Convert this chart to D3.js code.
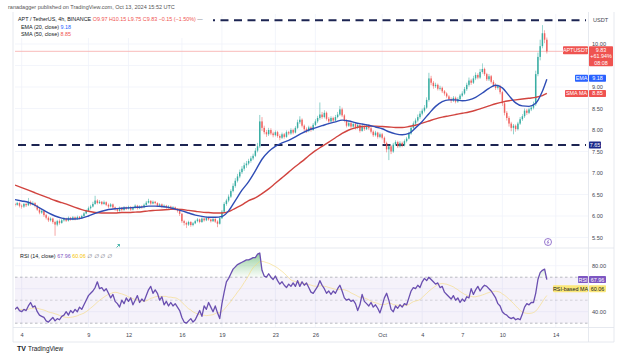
<!DOCTYPE html>
<html><head><meta charset="utf-8">
<script src="https://cdn.jsdelivr.net/npm/d3@7"></script>
<style>
html,body{margin:0;padding:0;background:#fff;}
svg{display:block;font-family:"Liberation Sans",Arial,sans-serif;}
</style></head><body>
<svg id="c" width="640" height="355"></svg>
<script>
// ---------- DATA (4h candles, APT/USDT, from Sep 3 12:00 UTC) ----------
const firstOpen = 6.28;
const close = [
6.26,6.30,6.24,
6.22,6.28,6.25,6.33,6.27,6.30,
6.24,6.15,6.08,6.12,6.02,5.96,
5.90,5.94,5.86,5.80,5.88,5.84,
5.90,5.94,5.89,5.96,5.92,5.97,
5.93,5.98,5.95,6.00,6.06,6.12,
6.18,6.22,6.28,6.36,6.30,6.33,
6.28,6.32,6.26,6.22,6.27,6.20,
6.16,6.12,6.19,6.14,6.20,6.17,
6.21,6.15,6.19,6.24,6.18,6.22,
6.20,6.26,6.31,6.35,6.29,6.33,
6.30,6.24,6.27,6.21,6.24,6.20,
6.22,6.18,6.20,6.16,6.12,6.05,
5.88,5.84,5.80,5.86,5.79,5.83,
5.88,5.92,5.86,5.94,5.90,5.96,
5.92,5.88,5.93,5.87,5.82,5.95,
6.10,6.28,6.36,6.45,6.58,6.70,
6.82,6.92,7.02,7.10,7.18,7.22,
7.28,7.34,7.40,7.52,7.62,8.20,
8.05,7.95,7.90,8.00,7.92,7.88,
7.95,7.86,7.82,7.90,7.84,7.95,
7.92,8.00,7.94,8.05,8.18,8.24,
8.10,8.02,7.98,8.06,8.00,8.12,
8.20,8.28,8.36,8.30,8.40,8.26,
8.20,8.28,8.22,8.30,8.36,8.48,
8.34,8.22,8.10,8.16,8.08,8.14,
8.05,8.12,7.98,8.08,8.02,8.10,
8.04,7.96,7.88,7.94,7.84,7.90,
7.82,7.70,7.55,7.62,7.50,7.66,
7.72,7.62,7.70,7.64,7.74,7.80,
7.92,8.05,8.15,8.22,8.30,8.38,
8.45,8.52,8.70,9.20,9.10,9.02,
9.05,8.96,8.98,8.90,8.85,8.78,
8.72,8.68,8.75,8.66,8.72,8.80,
8.85,8.95,9.05,9.15,9.10,9.20,
9.28,9.22,9.35,9.42,9.30,9.18,
9.25,9.12,9.05,8.98,9.02,8.88,
8.62,8.40,8.28,8.15,8.05,8.10,
8.02,8.15,8.25,8.32,8.45,8.40,
8.48,8.52,8.60,9.30,9.70,9.95,
10.25,10.10,9.83];
const high = [
6.31,6.33,6.32,
6.27,6.31,6.30,6.42,6.36,6.34,
6.32,6.26,6.18,6.16,6.14,6.05,
5.99,5.97,5.96,5.89,5.91,5.92,
5.93,5.97,5.96,5.99,5.98,6.00,
5.99,6.01,6.00,6.03,6.09,6.15,
6.22,6.26,6.33,6.47,6.39,6.37,
6.35,6.36,6.34,6.29,6.30,6.29,
6.22,6.18,6.22,6.21,6.23,6.22,
6.24,6.23,6.22,6.27,6.26,6.25,
6.25,6.29,6.35,6.40,6.37,6.36,
6.35,6.32,6.30,6.29,6.27,6.26,
6.25,6.24,6.23,6.22,6.18,6.14,
6.07,5.91,5.87,5.89,5.88,5.86,
5.91,5.95,5.94,5.97,5.96,5.99,
5.98,5.94,5.96,5.95,5.90,5.98,
6.14,6.32,6.40,6.50,6.62,6.76,
6.88,6.98,7.08,7.16,7.24,7.28,
7.33,7.39,7.45,7.58,7.70,8.35,
8.30,8.10,8.00,8.05,8.04,7.96,
7.99,7.98,7.90,7.94,7.93,7.99,
7.98,8.04,8.03,8.09,8.24,8.32,
8.27,8.13,8.06,8.10,8.09,8.16,
8.25,8.33,8.64,8.42,8.46,8.43,
8.30,8.32,8.31,8.35,8.42,8.56,
8.52,8.37,8.25,8.20,8.19,8.18,
8.17,8.16,8.14,8.12,8.11,8.14,
8.13,8.07,7.99,7.98,7.96,7.94,
7.93,7.85,7.73,7.66,7.65,7.70,
7.76,7.75,7.74,7.73,7.78,7.84,
7.96,8.09,8.20,8.27,8.36,8.44,
8.50,8.58,8.76,9.33,9.26,9.14,
9.10,9.08,9.03,9.01,8.93,8.88,
8.81,8.76,8.79,8.78,8.76,8.84,
8.90,9.00,9.10,9.22,9.19,9.26,
9.34,9.32,9.42,9.55,9.45,9.33,
9.30,9.28,9.16,9.09,9.06,9.05,
8.91,8.66,8.44,8.32,8.19,8.14,
8.13,8.19,8.30,8.37,8.50,8.49,
8.52,8.57,8.66,9.38,9.80,10.10,
10.44,10.32,10.15];
const low = [
6.22,6.24,6.20,
6.17,6.19,6.21,6.23,6.24,6.25,
6.20,6.12,6.04,6.05,5.98,5.92,
5.86,5.87,5.82,5.54,5.76,5.80,
5.82,5.87,5.86,5.87,5.89,5.90,
5.90,5.91,5.92,5.93,5.98,6.04,
6.10,6.15,6.20,6.26,6.27,6.28,
6.25,6.26,6.23,6.18,6.20,6.17,
6.12,6.07,6.10,6.11,6.12,6.14,
6.15,6.12,6.13,6.17,6.15,6.16,
6.17,6.18,6.24,6.29,6.26,6.27,
6.27,6.21,6.22,6.18,6.19,6.17,
6.17,6.15,6.16,6.13,6.08,6.00,
5.84,5.78,5.72,5.77,5.75,5.76,
5.81,5.85,5.83,5.84,5.87,5.88,
5.89,5.85,5.86,5.84,5.74,5.80,
5.93,6.08,6.24,6.32,6.42,6.55,
6.66,6.78,6.88,6.98,7.05,7.12,
7.18,7.24,7.30,7.37,7.48,7.58,
7.98,7.90,7.84,7.86,7.88,7.83,
7.85,7.82,7.76,7.79,7.80,7.82,
7.88,7.89,7.90,7.92,8.02,8.14,
8.06,7.97,7.93,7.95,7.96,7.98,
8.09,8.16,8.24,8.26,8.27,8.22,
8.15,8.17,8.18,8.20,8.27,8.33,
8.30,8.18,8.06,8.07,8.04,8.05,
8.01,8.02,7.94,7.96,7.98,8.00,
8.00,7.92,7.84,7.85,7.80,7.81,
7.78,7.66,7.48,7.30,7.44,7.47,
7.63,7.58,7.59,7.60,7.62,7.71,
7.78,7.89,8.02,8.11,8.18,8.26,
8.34,8.41,8.49,8.66,9.04,8.96,
8.98,8.92,8.92,8.86,8.80,8.74,
8.68,8.63,8.65,8.62,8.63,8.69,
8.77,8.82,8.91,9.01,9.05,9.07,
9.16,9.18,9.19,9.31,9.26,9.14,
9.14,9.08,9.00,8.93,8.94,8.83,
8.56,8.34,8.22,8.08,7.97,7.90,
7.96,7.99,8.12,8.21,8.28,8.35,
8.37,8.44,8.48,8.56,9.25,9.62,
9.90,10.02,9.78];
// EMA(20) and SMA(50) read every 12h (every 3rd candle) plus the last candle
const ema20 = [
6.38,6.35,6.32,6.25,6.16,6.07,6.00,5.95,5.93,5.93,
5.95,6.00,6.06,6.11,6.15,6.17,6.18,6.19,6.20,6.21,
6.23,6.23,6.22,6.20,6.16,6.12,6.07,6.02,5.99,5.97,
5.97,5.99,6.12,6.36,6.60,6.80,7.05,7.32,7.50,7.62,
7.70,7.76,7.84,7.93,8.00,8.05,8.10,8.15,8.19,8.23,
8.21,8.17,8.14,8.11,8.07,8.03,7.96,7.91,7.89,7.92,
8.05,8.20,8.38,8.55,8.66,8.70,8.70,8.68,8.70,8.76,
8.86,8.97,9.04,8.98,8.80,8.63,8.56,8.55,8.62,8.90,
9.18];
const sma50 = [
6.72,6.66,6.60,6.54,6.48,6.42,6.36,6.31,6.26,6.20,
6.15,6.11,6.08,6.07,6.07,6.07,6.08,6.08,6.09,6.10,
6.12,6.13,6.14,6.15,6.16,6.15,6.13,6.11,6.09,6.08,
6.07,6.07,6.10,6.18,6.26,6.36,6.42,6.52,6.63,6.76,
6.89,7.02,7.15,7.27,7.40,7.52,7.62,7.72,7.82,7.92,
8.00,8.05,8.08,8.09,8.09,8.08,8.07,8.06,8.06,8.08,
8.11,8.16,8.21,8.26,8.30,8.33,8.36,8.39,8.42,8.46,
8.51,8.56,8.61,8.65,8.68,8.70,8.72,8.74,8.76,8.80,
8.85];
// RSI(14) per candle
const rsi = [
42,44,41,40,42,41,45,48,44,45,
40,37,36,35,32,31,33,35,32,34,
33,36,37,40,37,41,39,42,40,44,
42,46,50,54,56,58,61,66,60,61,
58,60,56,52,55,49,47,44,50,47,
52,49,52,46,50,54,48,51,49,54,
59,62,56,59,56,50,53,46,49,45,
48,45,47,44,41,35,31,30,32,34,
31,33,37,41,36,45,42,48,44,40,
45,39,34,47,57,66,69,73,77,79,
81,82,83,84,85,85,86,87,87,90,
91,76,71,70,73,70,68,71,67,64,
66,63,61,64,62,65,62,67,62,66,
63,65,61,57,56,59,62,67,63,60,
56,58,55,58,56,60,63,58,52,50,
51,49,50,47,41,46,55,49,47,45,
48,44,46,43,39,45,52,56,50,42,
40,45,43,46,44,47,46,52,58,61,
60,63,61,66,69,67,70,68,66,64,
65,61,62,57,55,53,51,54,50,52,
48,51,49,53,52,60,55,59,62,58,
61,63,62,60,58,55,52,47,45,40,
38,37,35,34,35,33,34,33,38,44,
47,46,48,48,56,68,74,76,77,67.96];
const levels = [10.55, 7.65];
const priceTicks = [5.5, 6, 6.5, 7, 7.5, 8, 8.5, 9, 10];
const priceGrid = [5.5, 6, 6.5, 7, 7.5, 8, 8.5, 9, 9.5, 10];
const rsiTicks = [40, 80];
const dateTickDays = ["2024-09-04","2024-09-09","2024-09-12","2024-09-16","2024-09-19","2024-09-23","2024-09-26","2024-10-01","2024-10-04","2024-10-07","2024-10-10","2024-10-14"];
const dateTickLabels = ["4","9","12","16","19","23","26","Oct","4","7","10","14"];
const lastPrice = 9.83, lastChange = "+61.94%", countdown = "08:08";
const emaLast = 9.18, smaLast = 8.85, rsiLast = 67.96, rsiMaLast = 60.06;

// ---------- LAYOUT ----------
const svg = d3.select("#c");
const PL = 15, PR = 588, AXR = 614;
const pTop = 14, pBot = 247, rTop = 249, rBot = 327;
const H4 = 4 * 3600e3;
const t0 = Date.UTC(2024, 8, 3, 12);
const tAt = i => new Date(t0 + i * H4);
const x = d3.scaleUtc().domain([new Date(t0), new Date(Date.UTC(2024, 9, 16, 10))]).range([PL, PR]);
const y = d3.scaleLinear().domain([5.279, 10.698]).range([pBot, pTop]);
const yR = d3.scaleLinear().domain([0, 100]).range([357.7, 242.7]);

const candles = close.map((c, i) => ({t: tAt(i), o: i ? close[i-1] : firstOpen, c, h: high[i], l: low[i]}));
const maIdx = k => k < 80 ? 3 * k : close.length - 1;

const defs = svg.append("defs");
defs.append("clipPath").attr("id", "cp").append("rect").attr("x", PL).attr("y", pTop).attr("width", PR - PL).attr("height", pBot - pTop);
defs.append("clipPath").attr("id", "cr").append("rect").attr("x", PL).attr("y", rTop).attr("width", PR - PL).attr("height", rBot - rTop);
const gOB = defs.append("linearGradient").attr("id", "gob").attr("gradientUnits", "userSpaceOnUse")
  .attr("x1", 0).attr("x2", 0).attr("y1", yR(100)).attr("y2", yR(70));
gOB.append("stop").attr("offset", 0).attr("stop-color", "#2e9e4a").attr("stop-opacity", 0.75);
gOB.append("stop").attr("offset", 1).attr("stop-color", "#4caf50").attr("stop-opacity", 0.03);
const gOS = defs.append("linearGradient").attr("id", "gos").attr("gradientUnits", "userSpaceOnUse")
  .attr("x1", 0).attr("x2", 0).attr("y1", yR(30)).attr("y2", yR(0));
gOS.append("stop").attr("offset", 0).attr("stop-color", "#f23645").attr("stop-opacity", 0.03);
gOS.append("stop").attr("offset", 1).attr("stop-color", "#f23645").attr("stop-opacity", 0.75);

svg.append("rect").attr("width", 640).attr("height", 355).attr("fill", "#fff");

// grid
const grid = svg.append("g").attr("stroke", "#f0f3fa").attr("stroke-width", 0.8);
dateTickDays.forEach(d => {
  const xx = x(new Date(d + "T00:00:00Z"));
  if (xx < PR) grid.append("line").attr("x1", xx).attr("x2", xx).attr("y1", pTop).attr("y2", rBot);
});
priceGrid.forEach(v => grid.append("line").attr("x1", PL).attr("x2", PR).attr("y1", y(v)).attr("y2", y(v)));
[40, 60, 80].forEach(v => grid.append("line").attr("x1", PL).attr("x2", PR).attr("y1", yR(v)).attr("y2", yR(v)));

// frame
const fr = svg.append("g").attr("stroke", "#e0e3eb").attr("stroke-width", 0.8).attr("fill", "none");
fr.append("line").attr("x1", PR + 0.5).attr("x2", PR + 0.5).attr("y1", 12).attr("y2", rBot + 15);
fr.append("line").attr("x1", AXR).attr("x2", AXR).attr("y1", 12).attr("y2", rBot + 15);
fr.append("line").attr("x1", PL - 2).attr("x2", AXR).attr("y1", pBot + 1).attr("y2", pBot + 1);
fr.append("line").attr("x1", PL - 2).attr("x2", AXR).attr("y1", rBot + 0.5).attr("y2", rBot + 0.5);
fr.append("line").attr("x1", PL - 2).attr("x2", AXR).attr("y1", rBot + 15).attr("y2", rBot + 15);
fr.append("line").attr("x1", PL - 2).attr("x2", PL - 2).attr("y1", 12).attr("y2", rBot + 15);

// ---------- PRICE PANE ----------
const pp = svg.append("g").attr("clip-path", "url(#cp)");
// last price line
pp.append("line").attr("x1", PL).attr("x2", PR).attr("y1", y(lastPrice)).attr("y2", y(lastPrice))
  .attr("stroke", "#f7a9a8").attr("stroke-width", 0.8);
// horizontal levels
levels.forEach(v => pp.append("line").attr("x1", PL + 3).attr("x2", PR - 2).attr("y1", y(v)).attr("y2", y(v))
  .attr("stroke", "#1c2452").attr("stroke-width", 2).attr("stroke-dasharray", "8,5.5"));
// candles
const cg = pp.append("g");
const up = "#26a69a", dn = "#ef5350";
cg.selectAll("line.w").data(candles).join("line")
  .attr("x1", d => x(d.t)).attr("x2", d => x(d.t))
  .attr("y1", d => y(d.h)).attr("y2", d => y(d.l))
  .attr("stroke", d => d.c >= d.o ? up : dn).attr("stroke-width", 0.6).attr("opacity", 0.85);
cg.selectAll("rect").data(candles).join("rect")
  .attr("x", d => x(d.t) - 0.75).attr("width", 1.5)
  .attr("y", d => y(Math.max(d.o, d.c)))
  .attr("height", d => Math.max(0.6, Math.abs(y(d.o) - y(d.c))))
  .attr("fill", d => d.c >= d.o ? up : dn).attr("opacity", 0.85);
// moving averages
const maLine = d3.line().x((d, k) => x(tAt(maIdx(k)))).y(d => y(d)).curve(d3.curveMonotoneX);
pp.append("path").attr("d", maLine(sma50)).attr("fill", "none").attr("stroke", "#d1443f").attr("stroke-width", 1.4);
pp.append("path").attr("d", maLine(ema20)).attr("fill", "none").attr("stroke", "#2f4db5").attr("stroke-width", 1.4);

// ---------- RSI PANE ----------
const rp = svg.append("g").attr("clip-path", "url(#cr)");
rp.append("rect").attr("x", PL).attr("width", PR - PL).attr("y", yR(70)).attr("height", yR(30) - yR(70)).attr("fill", "#7e57c2").attr("opacity", 0.08);
[70, 50, 30].forEach(v => rp.append("line").attr("x1", PL).attr("x2", PR).attr("y1", yR(v)).attr("y2", yR(v))
  .attr("stroke", "#9598a1").attr("stroke-width", 0.7).attr("stroke-dasharray", "2.5,2.5").attr("opacity", v === 50 ? 0.5 : 0.9));
const rx = (d, i) => x(tAt(i));
rp.append("path").attr("d", d3.area().x(rx).y0(yR(70)).y1(d => yR(Math.max(d, 70)))(rsi)).attr("fill", "url(#gob)");
rp.append("path").attr("d", d3.area().x(rx).y0(yR(30)).y1(d => yR(Math.min(d, 30)))(rsi)).attr("fill", "url(#gos)");
const rsiMa = rsi.map((d, i) => d3.mean(rsi.slice(Math.max(0, i - 13), i + 1)));
rp.append("path").attr("d", d3.line().x(rx).y(d => yR(d)).curve(d3.curveMonotoneX)(rsiMa))
  .attr("fill", "none").attr("stroke", "#f5d76e").attr("stroke-width", 1).attr("opacity", 0.55);
rp.append("path").attr("d", d3.line().x(rx).y(d => yR(d))(rsi))
  .attr("fill", "none").attr("stroke", "#6a4fb0").attr("stroke-width", 1.3).attr("stroke-linejoin", "round");

// ---------- AXES ----------
const fs = 5.6;
const pAx = svg.append("g").attr("transform", `translate(${PR + 4},0)`)
  .call(d3.axisRight(y).tickValues(priceTicks).tickFormat(d3.format(".2f")).tickSize(0).tickPadding(0));
pAx.select(".domain").remove();
pAx.selectAll("text").attr("font-size", fs).attr("fill", "#434651").attr("font-family", "Liberation Sans, Arial");
const rAx = svg.append("g").attr("transform", `translate(${PR + 4},0)`)
  .call(d3.axisRight(yR).tickValues(rsiTicks).tickFormat(d3.format(".2f")).tickSize(0).tickPadding(0));
rAx.select(".domain").remove();
rAx.selectAll("text").attr("font-size", fs).attr("fill", "#434651").attr("font-family", "Liberation Sans, Arial");
const tAx = svg.append("g").attr("transform", `translate(0,${rBot + 4})`)
  .call(d3.axisBottom(x).tickValues(dateTickDays.map(d => new Date(d + "T00:00:00Z"))).tickFormat((d, i) => dateTickLabels[i]).tickSize(0).tickPadding(2));
tAx.select(".domain").remove();
tAx.selectAll("text").attr("font-size", fs).attr("fill", "#434651").attr("font-family", "Liberation Sans, Arial");
svg.append("text").attr("x", PR + 5).attr("y", 22).attr("font-size", fs).attr("fill", "#434651").text("USDT");

// ---------- AXIS LABEL BOXES ----------
function tag(xl, xr, yc, h, fill, lines, color) {
  const g = svg.append("g");
  g.append("rect").attr("x", xl).attr("width", xr - xl).attr("y", yc - h / 2).attr("height", h).attr("fill", fill).attr("rx", 0.8);
  const n = lines.length;
  lines.forEach((s, i) => g.append("text").attr("x", (xl + xr) / 2).attr("y", yc - h / 2 + (i + 0.5) * h / n + 2)
    .attr("text-anchor", "middle").attr("font-size", 5.4).attr("fill", color || "#fff").text(s));
}
tag(563, 588, y(lastPrice) - 1, 8, "#ef5350", ["APTUSDT"]);
tag(589, 613, y(lastPrice) + 5, 20, "#ef5350", [d3.format(".2f")(lastPrice), lastChange, countdown]);
tag(575, 588, y(emaLast) - 1, 7, "#2962ff", ["EMA"]);
tag(589, 606, y(emaLast) - 1, 7, "#2962ff", [d3.format(".2f")(emaLast)]);
tag(565, 588, y(smaLast), 7, "#ef5350", ["SMA MA"]);
tag(589, 606, y(smaLast), 7, "#ef5350", [d3.format(".2f")(smaLast)]);
tag(589, 601, y(levels[1]), 7, "#1c2a8a", [d3.format(".2f")(levels[1])]);
tag(578, 588, yR(rsiLast), 7, "#7e57c2", ["RSI"]);
tag(589, 606, yR(rsiLast), 7, "#7e57c2", [d3.format(".2f")(rsiLast)]);
tag(553, 588, yR(rsiMaLast), 7, "#fbe77a", ["RSI-based MA"], "#131722");
tag(589, 606, yR(rsiMaLast), 7, "#fbe77a", [d3.format(".2f")(rsiMaLast)], "#131722");

// ---------- LEGENDS ----------
svg.append("rect").attr("x", PL).attr("y", 14).attr("width", 198).attr("height", 24).attr("fill", "#fff");
svg.append("text").attr("x", 8).attr("y", 9).attr("font-size", 5.5).attr("fill", "#555").text("ranadagger published on TradingView.com, Oct 13, 2024 15:52 UTC");
const l2 = svg.append("text").attr("x", 18).attr("y", 21).attr("font-size", 5.4).attr("fill", "#131722");
l2.append("tspan").text("APT / TetherUS, 4h, BINANCE ");
l2.append("tspan").attr("fill", "#ef5350").text("O9.97 H10.15 L9.75 C9.83 −0.15 (−1.50%)");
l2.append("tspan").attr("fill", "#6b6f7a").text("  —");
const l3 = svg.append("text").attr("x", 21).attr("y", 28.5).attr("font-size", 5.4).attr("fill", "#131722");
l3.append("tspan").text("EMA (20, close) ");
l3.append("tspan").attr("fill", "#2962ff").text(d3.format(".2f")(emaLast));
const l4 = svg.append("text").attr("x", 21).attr("y", 36).attr("font-size", 5.4).attr("fill", "#131722");
l4.append("tspan").text("SMA (50, close) ");
l4.append("tspan").attr("fill", "#ef5350").text(d3.format(".2f")(smaLast));
const l5 = svg.append("text").attr("x", 20).attr("y", 258).attr("font-size", 5.4).attr("fill", "#131722");
l5.append("tspan").text("RSI (14, close) ");
l5.append("tspan").attr("fill", "#7e57c2").text(d3.format(".2f")(rsiLast) + " ");
l5.append("tspan").attr("fill", "#f5c400").text(d3.format(".2f")(rsiMaLast) + " ");
l5.append("tspan").attr("fill", "#6b6f7a").attr("font-style", "italic").text(" ∅  ∅  ∅  ∅");

// small markers
svg.append("path").attr("d", "M116.5,247.5 L119.5,244.5 M117.5,244.5 L119.5,244.5 L119.5,246.5").attr("stroke", "#26a69a").attr("stroke-width", 0.8).attr("fill", "none");
svg.append("circle").attr("cx", 548).attr("cy", 242).attr("r", 3.5).attr("fill", "#fff").attr("stroke", "#7e57c2").attr("stroke-width", 0.8);
svg.append("path").attr("d", "M548.8,239.8 L547,242.3 L549,242 L547.2,244.4").attr("stroke", "#7e57c2").attr("stroke-width", 0.6).attr("fill", "none");

// logo
svg.append("text").attr("x", 17).attr("y", 351).attr("font-size", 7).attr("font-weight", "bold").attr("fill", "#131722").text("TV");
svg.append("text").attr("x", 28).attr("y", 351).attr("font-size", 6.4).attr("fill", "#131722").text("TradingView");
</script>
</body></html>
